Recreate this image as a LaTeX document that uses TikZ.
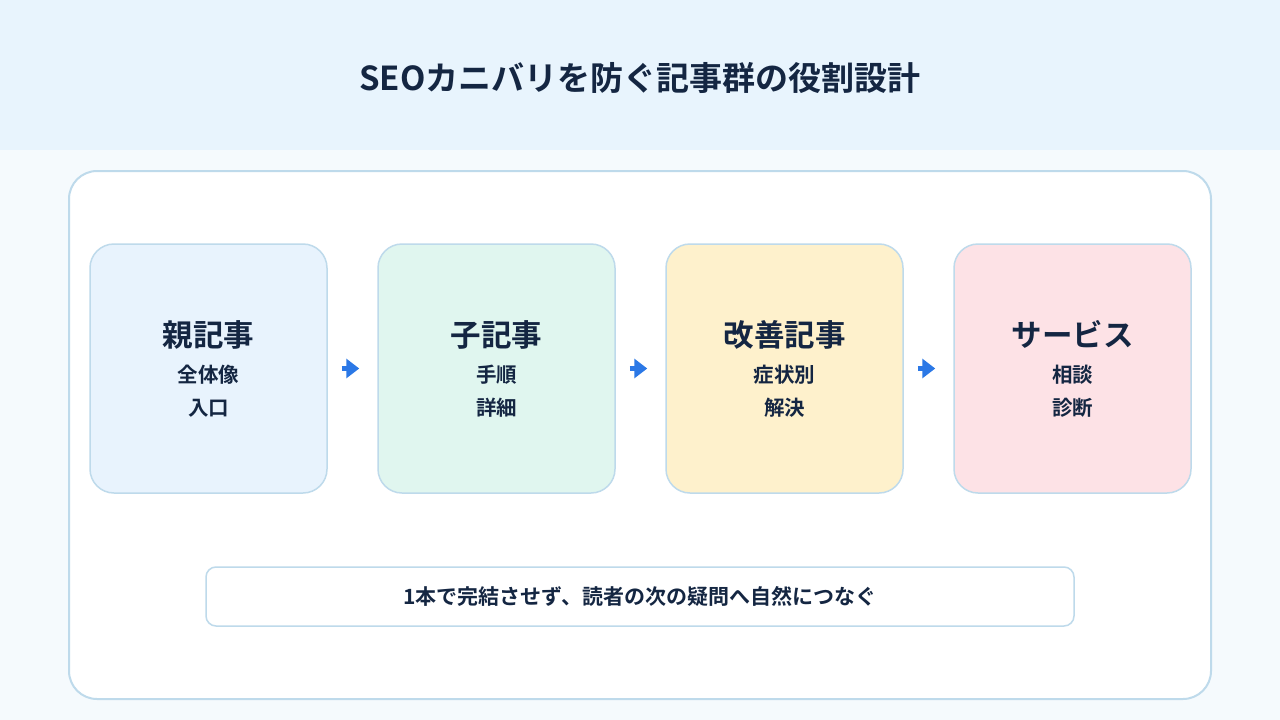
\documentclass[tikz,border=0pt]{standalone}
\usepackage{fontspec}
\setmainfont{Noto Sans CJK JP}[BoldFont={Noto Sans CJK JP Bold}]
\usetikzlibrary{positioning,arrows.meta}
\definecolor{ink}{RGB}{20,38,66}
\definecolor{headbg}{RGB}{232,244,253}
\definecolor{pagebg}{RGB}{245,250,253}
\definecolor{rim}{RGB}{190,218,235}
\definecolor{flowblue}{RGB}{43,120,230}
\definecolor{parentfill}{RGB}{232,243,253}
\definecolor{childfill}{RGB}{224,246,239}
\definecolor{fixfill}{RGB}{254,241,204}
\definecolor{servicefill}{RGB}{253,226,230}
\newcommand{\cardhead}[1]{{\fontsize{30.5}{38}\selectfont #1}}

\begin{document}
\begin{tikzpicture}[x=1pt, y=-1pt,
  card/.style={draw=rim, line width=1.5pt, rounded corners=24pt,
    minimum width=237pt, minimum height=249pt, align=center,
    text=ink, font=\bfseries\fontsize{20.5}{33}\selectfont},
  flow/.style={-{Triangle[length=13pt, width=19pt]}, line width=5pt,
    flowblue, shorten <=14pt, shorten >=18pt},
]
  % background and header band
  \fill[pagebg] (0,0) rectangle (1280,720);
  \fill[headbg] (0,0) rectangle (1280,150);
  \node[text=ink, font=\bfseries\fontsize{33}{40}\selectfont] (title) at (640,78)
    {SEOカニバリを防ぐ記事群の役割設計};
  \draw[rim, fill=white, line width=2pt, rounded corners=28pt]
    (69,171) rectangle (1211,699);

  \node[card, fill=parentfill] (parent) at (208.5,368.5)
    {\cardhead{親記事}\\[3pt]全体像\\入口};
  \node[card, fill=childfill] (child) at (496.5,368.5)
    {\cardhead{子記事}\\[3pt]手順\\詳細};
  \node[card, fill=fixfill] (fix) at (784.5,368.5)
    {\cardhead{改善記事}\\[3pt]症状別\\解決};
  \node[card, fill=servicefill] (service) at (1072.5,368.5)
    {\cardhead{サービス}\\[3pt]相談\\診断};

  \draw[flow] (parent) -- (child);
  \draw[flow] (child) -- (fix);
  \draw[flow] (fix) -- (service);

  \node[draw=rim, fill=white, line width=1.5pt, rounded corners=10pt,
    minimum width=868pt, minimum height=59pt, text=ink,
    font=\bfseries\fontsize{21}{25}\selectfont] (note) at (640,596.5)
    {1本で完結させず、読者の次の疑問へ自然につなぐ};
\end{tikzpicture}
\end{document}
